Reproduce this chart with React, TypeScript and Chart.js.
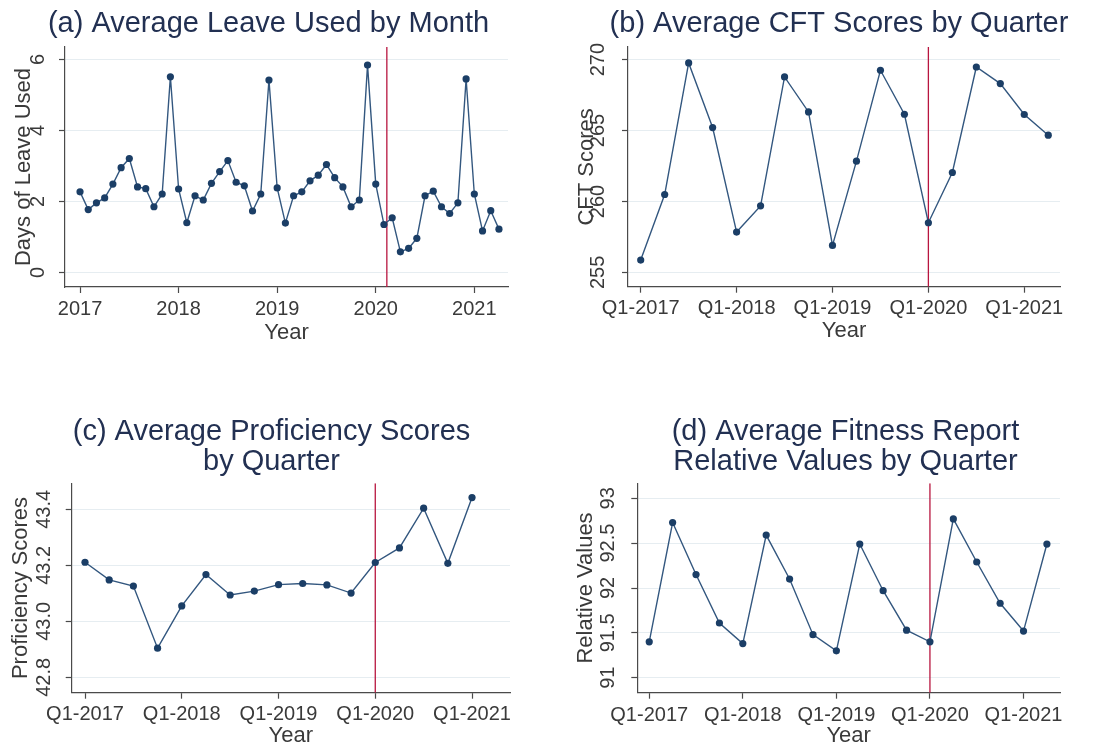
import React, { useEffect, useRef } from 'react';
import { Chart, registerables } from 'chart.js';

Chart.register(...registerables);

// ---------- data ----------
// Panel (a): monthly, Jan 2017 .. Apr 2021
const leaveUsed = [
  2.27, 1.77, 1.96, 2.10, 2.49, 2.95, 3.21, 2.41, 2.36, 1.85, 2.21, 5.51,
  2.35, 1.40, 2.16, 2.04, 2.51, 2.84, 3.15, 2.54, 2.44, 1.73, 2.21, 5.42,
  2.38, 1.39, 2.16, 2.27, 2.58, 2.74, 3.04, 2.67, 2.41, 1.85, 2.04, 5.84,
  2.49, 1.35, 1.54, 0.58, 0.68, 0.96, 2.16, 2.29, 1.85, 1.66, 1.96, 5.45,
  2.21, 1.17, 1.74, 1.22,
];
const yearTickValues = [0, 12, 24, 36, 48];
const yearTickLabels = ['2017', '2018', '2019', '2020', '2021'];
const leaveTicks = [0, 2, 4, 6];
const leaveTickLabels = ['0', '2', '4', '6'];
const leaveCutoff = 37.35; // month index of the policy line

// Panel (b): quarterly Q1-2017 .. Q2-2021
const cftScores = [
  255.87, 260.49, 269.77, 265.21,
  257.84, 259.69, 268.78, 266.31,
  256.9, 262.84, 269.25, 266.15,
  258.5, 262.04, 269.48, 268.31,
  266.13, 264.67,
];
const cftTicks = [255, 260, 265, 270];
const cftTickLabels = ['255', '260', '265', '270'];

// Panel (c): quarterly Q1-2017 .. Q1-2021
const proficiencyScores = [
  43.211, 43.148, 43.126, 42.904,
  43.055, 43.167, 43.094, 43.108,
  43.131, 43.135, 43.13, 43.101,
  43.21, 43.262, 43.404, 43.207,
  43.442,
];
const profTicks = [42.8, 43.0, 43.2, 43.4];
const profTickLabels = ['42.8', '43.0', '43.2', '43.4'];

// Panel (d): quarterly Q1-2017 .. Q2-2021
const fitnessRelative = [
  91.4, 92.73, 92.15, 91.61,
  91.38, 92.59, 92.1, 91.48,
  91.3, 92.49, 91.97, 91.53,
  91.4, 92.77, 92.29, 91.83,
  91.52, 92.49,
];
const fitTicks = [91, 91.5, 92, 92.5, 93];
const fitTickLabels = ['91', '91.5', '92', '92.5', '93'];

const quarterTickValues = [0, 4, 8, 12, 16];
const quarterTickLabels = ['Q1-2017', 'Q1-2018', 'Q1-2019', 'Q1-2020', 'Q1-2021'];
const quarterCutoff = 12;

// ---------- style ----------
const FONT = "'Liberation Sans', Arial, Helvetica, sans-serif";
const TITLE_COLOR = '#223052';
const TEXT_COLOR = '#3a3a3a';
const AXIS_COLOR = '#4a4a4a';
const GRID_COLOR = '#e6edf1';
const LINE_COLOR = '#33577f';
const MARK_COLOR = '#1b3e66';
const RED = '#b8153f';

type PanelSpec = {
  left: number; top: number; width: number;
  title: string | string[]; titleLH: number; tpTop: number; tpBottom: number;
  rw: number; yWidth: number; xHeight: number;
  values: number[];
  xMin: number; xMax: number; xTicks: number[]; xLabels: string[]; cutoff: number;
  yMin: number; yMax: number; yTicks: number[]; yLabels: string[];
  yTitle: string; ytPad: number; yPad: number; xPad: number; xtPad: number;
};

const panels: PanelSpec[] = [
  {
    left: 0, top: 0, width: 537,
    title: '(a) Average Leave Used by Month', titleLH: 1.2, tpTop: 6.2, tpBottom: 6.0,
    rw: 29, yWidth: 65, xHeight: 87,
    values: leaveUsed,
    xMin: -1.83, xMax: 52.1, xTicks: yearTickValues, xLabels: yearTickLabels, cutoff: leaveCutoff,
    yMin: -0.41, yMax: 6.35, yTicks: leaveTicks, yLabels: leaveTickLabels,
    yTitle: 'Days of Leave Used', ytPad: 11.2, yPad: 15.4, xPad: 4, xtPad: 28.3,
  },
  {
    left: 570, top: 0, width: 538,
    title: '(b) Average CFT Scores by Quarter', titleLH: 1.2, tpTop: 6.2, tpBottom: 6.0,
    rw: 48, yWidth: 58, xHeight: 87.3,
    values: cftScores,
    xMin: -0.53, xMax: 17.49, xTicks: quarterTickValues, xLabels: quarterTickLabels, cutoff: quarterCutoff,
    yMin: 253.99, yMax: 270.89, yTicks: cftTicks, yLabels: cftTickLabels,
    yTitle: 'CFT Scores', ytPad: 4.2, yPad: 7.2, xPad: 4, xtPad: 29.8,
  },
  {
    left: 0, top: 374, width: 543,
    title: ['(c) Average Proficiency Scores', 'by Quarter'], titleLH: 30 / 29, tpTop: 43, tpBottom: 6.3,
    rw: 33, yWidth: 71.7, xHeight: 55.3,
    values: proficiencyScores,
    xMin: -0.55, xMax: 17.57, xTicks: quarterTickValues, xLabels: quarterTickLabels, cutoff: quarterCutoff,
    yMin: 42.745, yMax: 43.493, yTicks: profTicks, yLabels: profTickLabels,
    yTitle: 'Proficiency Scores', ytPad: 7.8, yPad: 1.4, xPad: 3.3, xtPad: -1,
  },
  {
    left: 570, top: 374, width: 551,
    title: ['(d) Average Fitness Report', 'Relative Values by Quarter'], titleLH: 30 / 29, tpTop: 43, tpBottom: 6.3,
    rw: 61, yWidth: 67.3, xHeight: 55.3,
    values: fitnessRelative,
    xMin: -0.51, xMax: 17.56, xTicks: quarterTickValues, xLabels: quarterTickLabels, cutoff: quarterCutoff,
    yMin: 90.833, yMax: 93.167, yTicks: fitTicks, yLabels: fitTickLabels,
    yTitle: 'Relative Values', ytPad: 2.5, yPad: 3.8, xPad: 4.8, xtPad: -1.2,
  },
];

function makeConfig(p: PanelSpec): any {
  const points = p.values.map((v, i) => ({ x: i, y: v }));
  const cutLine = [
    { x: p.cutoff, y: p.yMin },
    { x: p.cutoff, y: p.yMax },
  ];
  return {
    type: 'line',
    data: {
      datasets: [
        {
          data: points,
          borderColor: LINE_COLOR,
          borderWidth: 1.4,
          pointRadius: 3.6,
          pointBackgroundColor: MARK_COLOR,
          pointBorderColor: MARK_COLOR,
          pointBorderWidth: 0,
          tension: 0,
          order: 1,
        },
        {
          data: cutLine,
          borderColor: RED,
          borderWidth: 1.3,
          pointRadius: 0,
          tension: 0,
          order: 2,
        },
      ],
    },
    options: {
      responsive: false,
      animation: false,
      events: [],
      layout: { padding: 0 },
      plugins: {
        legend: { display: false },
        tooltip: { enabled: false },
        title: {
          display: true,
          text: p.title,
          color: TITLE_COLOR,
          font: { family: FONT, size: 29, weight: 'normal', lineHeight: p.titleLH },
          padding: { top: p.tpTop, bottom: p.tpBottom },
        },
      },
      scales: {
        x: {
          type: 'linear',
          min: p.xMin,
          max: p.xMax,
          bounds: 'data',
          afterBuildTicks: (s: any) => {
            s.ticks = p.xTicks.map((v) => ({ value: v }));
          },
          afterFit: (s: any) => {
            s.height = p.xHeight;
          },
          ticks: {
            autoSkip: false,
            maxRotation: 0,
            minRotation: 0,
            padding: p.xPad,
            color: TEXT_COLOR,
            font: { family: FONT, size: 20 },
            callback: (v: number) => {
              const k = p.xTicks.indexOf(v);
              return k >= 0 ? p.xLabels[k] : '';
            },
          },
          grid: {
            drawOnChartArea: false,
            drawTicks: true,
            tickLength: 6,
            tickColor: AXIS_COLOR,
            tickWidth: 1.2,
          },
          border: { display: true, color: AXIS_COLOR, width: 1.2 },
          title: {
            display: true,
            text: 'Year',
            color: TEXT_COLOR,
            font: { family: FONT, size: 22 },
            padding: { top: 0, bottom: p.xtPad },
          },
        },
        y: {
          type: 'linear',
          position: 'left',
          min: p.yMin,
          max: p.yMax,
          bounds: 'data',
          afterBuildTicks: (s: any) => {
            s.ticks = p.yTicks.map((v) => ({ value: v }));
          },
          afterFit: (s: any) => {
            s.width = p.yWidth;
          },
          ticks: {
            autoSkip: false,
            minRotation: 90,
            maxRotation: 90,
            crossAlign: 'center',
            padding: p.yPad,
            color: TEXT_COLOR,
            font: { family: FONT, size: 20 },
            callback: (v: number) => {
              const k = p.yTicks.indexOf(v);
              return k >= 0 ? p.yLabels[k] : '';
            },
          },
          grid: {
            color: GRID_COLOR,
            lineWidth: 1,
            drawTicks: true,
            tickLength: 6,
            tickColor: AXIS_COLOR,
            tickWidth: 1.2,
          },
          border: { display: true, color: AXIS_COLOR, width: 1.2 },
          title: {
            display: true,
            text: p.yTitle,
            color: TEXT_COLOR,
            font: { family: FONT, size: 22 },
            padding: { top: p.ytPad, bottom: 0 },
          },
        },
        // empty right-hand margin (keeps the panel title centred like the original)
        yRight: {
          type: 'linear',
          position: 'right',
          display: true,
          afterFit: (s: any) => {
            s.width = p.rw;
          },
          ticks: { display: false },
          grid: { display: false, drawTicks: false },
          border: { display: false },
        },
      },
    },
  };
}

function Panel({ spec }: { spec: PanelSpec }) {
  const ref = useRef<HTMLCanvasElement | null>(null);
  useEffect(() => {
    if (!ref.current) return;
    const chart = new Chart(ref.current, makeConfig(spec));
    return () => chart.destroy();
  }, [spec]);
  return (
    <canvas
      ref={ref}
      width={spec.width}
      height={374}
      style={{ position: 'absolute', left: spec.left, top: spec.top, width: spec.width, height: 374 }}
    />
  );
}

export default function App() {
  return (
    <div
      style={{
        position: 'fixed',
        left: 0,
        top: 0,
        width: 1106,
        height: 748,
        background: '#ffffff',
        overflow: 'hidden',
      }}
    >
      {panels.map((p, i) => (
        <Panel key={i} spec={p} />
      ))}
    </div>
  );
}
